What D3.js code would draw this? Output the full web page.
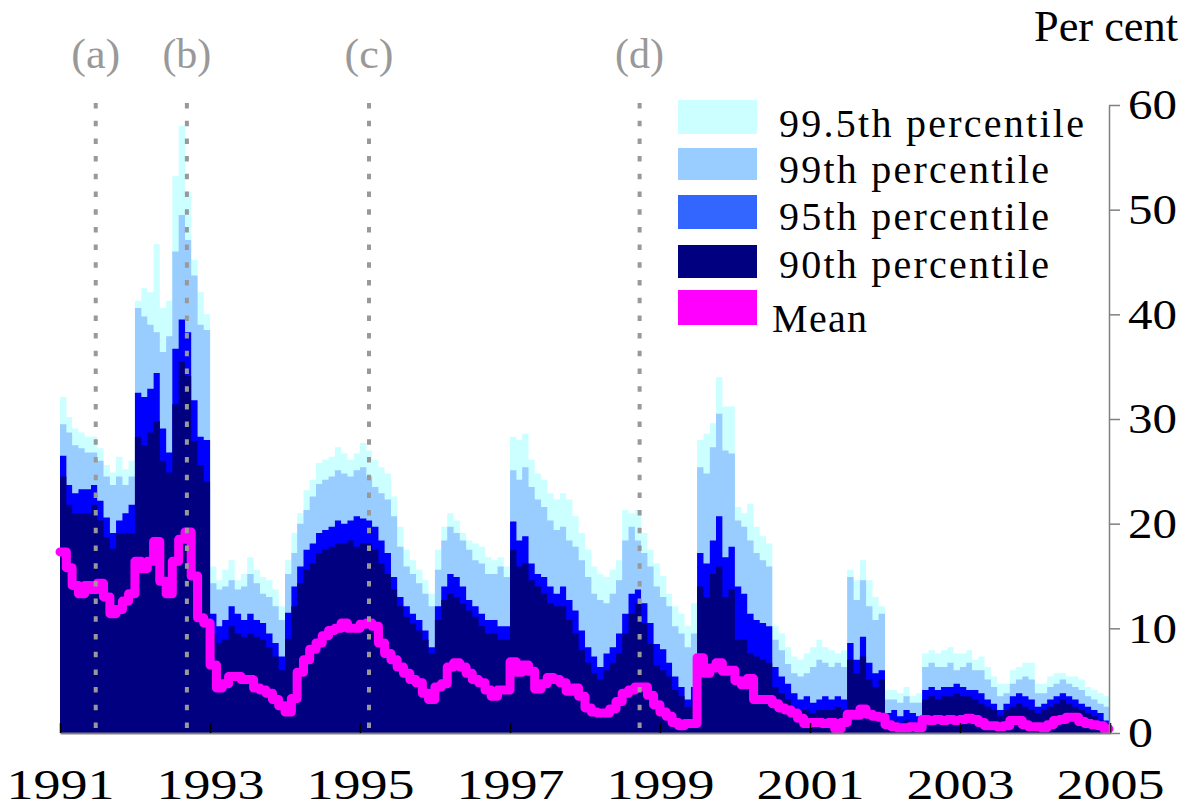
<!DOCTYPE html>
<html>
<head>
<meta charset="utf-8">
<script src="https://cdn.jsdelivr.net/npm/d3@7/dist/d3.min.js"></script>
<style>
  body { margin: 0; background: #fff; }
  svg { display: block; font-family: 'Liberation Serif', 'Times New Roman', serif; }
</style>
</head>
<body>
<svg id="chart" width="1192" height="809"></svg>
<script>
// monthly readings, Jan 1991 .. Dec 2004 (per cent)
const p995 = [
  32.1, 30.2, 29.1, 28.7, 28.3, 28.3, 27.2, 25.6, 24.9, 26.4, 25.2, 26.0,
  41.3, 42.5, 42.1, 46.7, 40.6, 41.3, 53.2, 58.0, 51.7, 45.2, 42.1, 40.0,
  15.9, 14.6, 15.6, 16.5, 14.6, 15.2, 16.8, 15.6, 14.9, 14.6, 13.7, 12.1,
  16.5, 19.1, 21.0, 23.2, 24.2, 25.8, 26.1, 26.4, 27.3, 26.7, 26.1, 26.7,
  27.7, 27.0, 26.1, 25.4, 24.8, 22.6, 19.7, 17.5, 16.5, 15.6, 14.6, 13.3,
  17.5, 19.7, 21.0, 20.3, 19.1, 18.4, 18.1, 17.8, 16.8, 16.5, 16.8, 15.9,
  28.3, 28.0, 28.6, 26.1, 24.8, 24.2, 22.9, 22.3, 22.9, 22.3, 20.7, 19.1,
  17.5, 15.9, 15.2, 14.9, 15.6, 16.5, 21.3, 21.0, 21.3, 19.1, 17.5, 16.2,
  15.0, 13.3, 12.1, 11.4, 10.2, 12.4, 28.0, 28.6, 29.6, 34.0, 31.2, 31.2,
  21.6, 21.0, 21.9, 19.7, 18.8, 18.1, 10.2, 9.5, 8.2, 7.3, 7.0, 7.6,
  8.2, 8.9, 8.2, 7.9, 7.6, 7.9, 15.6, 14.6, 16.5, 14.6, 13.0, 12.1,
  4.1, 4.1, 3.8, 4.4, 3.5, 3.8, 7.6, 7.9, 7.6, 7.9, 8.2, 7.6,
  7.6, 7.9, 7.0, 7.3, 6.3, 5.4, 4.7, 4.7, 6.0, 6.3, 6.7, 6.7,
  4.7, 4.7, 5.4, 5.7, 5.7, 5.4, 5.4, 5.1, 4.4, 4.1, 3.8, 3.5
]
const p99 = [
  29.5, 28.7, 27.5, 27.2, 26.8, 26.8, 26.0, 24.5, 23.7, 24.5, 23.7, 24.5,
  40.6, 39.8, 39.0, 38.3, 36.4, 37.9, 46.0, 49.5, 47.1, 43.7, 39.0, 38.5,
  14.3, 13.7, 14.0, 14.6, 13.7, 14.0, 15.2, 14.3, 13.3, 13.0, 12.1, 10.8,
  15.2, 17.2, 20.0, 21.3, 22.6, 23.8, 24.2, 24.5, 25.1, 24.8, 24.5, 25.1,
  25.4, 24.5, 23.5, 22.9, 22.3, 20.7, 17.8, 15.9, 15.2, 14.3, 13.3, 12.1,
  15.6, 18.4, 19.7, 19.1, 18.4, 17.5, 16.5, 16.2, 15.2, 15.2, 15.9, 14.9,
  25.1, 24.2, 25.4, 23.5, 22.3, 21.6, 20.3, 19.4, 19.7, 18.4, 17.8, 16.5,
  14.9, 13.3, 12.7, 12.4, 13.3, 14.6, 18.4, 19.7, 18.4, 17.2, 15.9, 14.0,
  13.0, 12.1, 10.2, 9.5, 8.2, 9.5, 25.4, 24.8, 27.3, 30.5, 27.0, 26.7,
  20.3, 19.7, 18.4, 17.2, 16.5, 15.9, 8.9, 7.9, 6.6, 5.7, 5.4, 5.7,
  6.3, 7.0, 6.7, 6.3, 6.7, 6.3, 14.9, 12.7, 14.6, 12.1, 10.8, 11.4,
  3.2, 3.2, 2.9, 3.5, 2.9, 2.9, 6.3, 6.7, 6.3, 6.3, 6.7, 6.0,
  6.3, 6.7, 6.0, 6.0, 5.1, 4.4, 3.5, 3.8, 4.7, 5.1, 5.4, 5.1,
  3.8, 3.8, 4.4, 4.7, 5.1, 4.7, 4.4, 4.1, 3.5, 3.2, 2.8, 2.5
]
const p95 = [
  26.5, 23.7, 22.9, 23.3, 23.3, 23.7, 22.2, 20.6, 19.1, 20.3, 21.0, 21.8,
  32.5, 32.1, 32.9, 34.4, 29.1, 26.8, 36.7, 39.5, 38.3, 31.8, 28.3, 28.0,
  11.4, 10.2, 10.8, 12.1, 11.4, 10.8, 11.4, 10.8, 10.5, 9.5, 8.6, 7.3,
  11.5, 14.0, 15.9, 17.5, 18.1, 19.1, 19.4, 19.7, 20.3, 20.0, 20.3, 20.7,
  20.5, 20.3, 19.7, 18.4, 17.2, 14.9, 13.0, 12.1, 11.4, 10.8, 9.8, 8.2,
  12.1, 14.0, 15.2, 14.9, 14.0, 12.7, 12.1, 11.4, 10.8, 10.8, 10.2, 10.2,
  20.2, 18.4, 18.8, 16.2, 15.2, 14.9, 14.0, 13.3, 14.0, 12.7, 11.7, 9.8,
  8.2, 7.3, 6.3, 7.6, 8.2, 9.5, 11.4, 13.3, 13.7, 12.4, 10.5, 8.5,
  8.0, 6.7, 5.4, 4.4, 3.2, 4.4, 17.2, 16.2, 18.4, 20.7, 16.8, 17.8,
  14.0, 13.3, 11.4, 10.8, 10.5, 10.2, 6.3, 5.4, 4.7, 3.8, 3.2, 3.5,
  2.9, 3.2, 3.5, 3.2, 3.5, 3.2, 8.6, 7.0, 9.2, 6.7, 5.7, 6.0,
  1.9, 2.2, 1.6, 2.2, 1.9, 1.6, 4.1, 4.4, 4.1, 4.4, 4.4, 4.7,
  4.4, 4.1, 4.1, 3.8, 3.2, 2.8, 2.2, 2.8, 3.5, 3.8, 3.5, 3.2,
  2.5, 2.8, 3.2, 3.5, 3.8, 3.5, 3.2, 2.8, 2.5, 2.2, 1.9, 1.2
]
const p90 = [
  24.5, 21.8, 21.0, 21.0, 21.0, 21.8, 20.3, 18.7, 17.6, 19.1, 19.1, 19.1,
  28.3, 27.5, 28.7, 29.8, 26.0, 24.9, 31.4, 35.5, 34.1, 27.9, 25.6, 24.0,
  9.5, 8.6, 8.9, 10.2, 9.5, 9.2, 9.5, 9.2, 8.9, 8.2, 7.3, 6.0,
  9.0, 12.1, 14.3, 15.6, 16.2, 17.2, 17.5, 17.8, 18.1, 18.1, 18.4, 17.8,
  18.1, 18.1, 17.5, 16.2, 15.2, 13.7, 12.1, 11.1, 10.5, 9.8, 8.9, 7.6,
  10.8, 12.7, 13.3, 13.0, 12.4, 11.7, 11.1, 10.2, 9.5, 9.5, 8.9, 8.9,
  17.5, 15.9, 16.2, 14.6, 14.0, 13.3, 12.4, 12.1, 12.1, 10.8, 9.5, 7.9,
  6.7, 5.7, 5.1, 6.0, 6.7, 7.6, 9.5, 11.4, 12.4, 10.5, 8.5, 6.5,
  6.0, 5.4, 4.1, 3.5, 2.5, 3.2, 14.0, 13.0, 15.2, 15.9, 13.0, 13.7,
  8.9, 8.9, 7.6, 7.3, 7.0, 6.7, 4.4, 3.8, 3.2, 2.5, 2.2, 2.2,
  1.9, 2.2, 2.2, 2.2, 2.5, 2.2, 7.0, 5.7, 7.3, 5.1, 4.4, 5.1,
  1.2, 1.2, 0.9, 1.2, 1.1, 0.9, 3.2, 3.5, 3.2, 3.5, 3.5, 3.8,
  3.5, 3.5, 3.2, 2.8, 2.5, 2.2, 1.6, 2.2, 2.5, 2.8, 2.5, 2.2,
  1.9, 2.2, 2.5, 2.8, 3.2, 2.8, 2.5, 2.2, 1.9, 1.6, 1.2, 0.9
]
const meanVals = [
  17.3, 15.8, 14.1, 13.3, 14.1, 13.7, 14.3, 13.0, 11.4, 11.8, 12.6, 13.3,
  16.4, 15.7, 16.4, 18.3, 14.5, 13.3, 16.4, 18.5, 19.2, 15.0, 11.0, 10.5,
  6.5, 4.3, 4.7, 5.4, 5.4, 5.1, 5.1, 4.3, 4.1, 3.8, 3.2, 2.6,
  2.0, 3.3, 5.8, 7.0, 8.0, 8.6, 9.3, 9.8, 10.0, 10.5, 10.0, 10.0,
  10.4, 10.5, 10.2, 8.6, 7.6, 7.0, 6.3, 5.7, 5.1, 4.8, 3.8, 3.2,
  4.4, 4.7, 6.3, 6.7, 6.3, 5.7, 5.1, 4.8, 4.1, 3.5, 4.1, 4.1,
  6.8, 5.8, 6.5, 5.9, 4.2, 4.7, 5.3, 5.1, 4.8, 4.0, 4.3, 3.5,
  2.4, 2.0, 1.9, 1.9, 2.3, 3.0, 3.8, 4.1, 4.4, 4.4, 3.6, 2.7,
  2.0, 1.6, 1.0, 0.7, 0.9, 0.9, 7.2, 5.7, 6.2, 6.7, 5.9, 6.0,
  5.0, 4.6, 5.2, 3.2, 3.2, 3.2, 2.8, 2.4, 2.2, 1.9, 1.4, 0.9,
  1.0, 1.0, 0.9, 1.0, 0.4, 1.0, 1.8, 1.7, 2.3, 1.8, 1.6, 1.5,
  0.8, 0.6, 0.5, 0.5, 0.6, 0.5, 1.3, 1.2, 1.3, 1.2, 1.3, 1.2,
  1.3, 1.4, 1.3, 1.0, 0.7, 0.7, 0.6, 0.7, 1.2, 1.2, 0.8, 0.6,
  0.6, 0.5, 0.8, 1.2, 1.3, 1.5, 1.5, 1.1, 0.9, 0.8, 0.7, 0.4
]
const yearTicks = [1991, 1993, 1995, 1997, 1999, 2001, 2003, 2005]
const yTicks = [0, 10, 20, 30, 40, 50, 60]
const events = [
  { label: '(a)', date: '1991-06-24' },
  { label: '(b)', date: '1992-09-10' },
  { label: '(c)', date: '1995-02-14' },
  { label: '(d)', date: '1998-09-24' }
]
const bands = [
  { name: '99.5th percentile', values: p995, fill: '#ccffff', key: '#ccffff' },
  { name: '99th percentile', values: p99, fill: '#99ccff', key: '#99ccff' },
  { name: '95th percentile', values: p95, fill: '#0000ff', key: '#3366ff' },
  { name: '90th percentile', values: p90, fill: '#000080', key: '#000080' }
]

const svg = d3.select('#chart')
const months = d3.timeMonth.range(new Date(1991, 0, 1), new Date(2005, 0, 1))
const lastDay = new Date(2004, 11, 27)

const x = d3.scaleTime().domain([new Date(1991, 0, 1), new Date(2005, 0, 1)]).range([60, 1110])
const y = d3.scaleLinear().domain([0, 60]).range([733, 105])

// month series -> points, last month held to the end of the year
const toPoints = vals => {
  const pts = months.map((d, i) => ({ date: d, v: vals[i] }))
  pts.push({ date: lastDay, v: vals[vals.length - 1] })
  return pts
}

const area = d3.area()
  .curve(d3.curveStepAfter)
  .x(d => x(d.date))
  .y0(y(0))
  .y1(d => y(d.v))

const plot = svg.append('g')
plot.selectAll('path.band')
  .data(bands)
  .join('path')
  .attr('class', 'band')
  .attr('fill', d => d.fill)
  .attr('d', d => area(toPoints(d.values)))

// mean line
const line = d3.line()
  .curve(d3.curveStepAfter)
  .x(d => x(d.date))
  .y(d => y(d.v))

plot.append('path')
  .attr('fill', 'none')
  .attr('stroke', '#ff00ff')
  .attr('stroke-width', 9)
  .attr('stroke-linejoin', 'round')
  .attr('stroke-linecap', 'round')
  .attr('d', line(toPoints(meanVals)))

// bottom axis: ticks inside, labels below
const xAxis = d3.axisBottom(x)
  .tickValues(yearTicks.map(yr => new Date(yr, 0, 1)))
  .tickSize(-10)
  .tickSizeOuter(0)
  .tickFormat(d3.timeFormat('%Y'))

const gx = svg.append('g')
  .attr('transform', `translate(0,${y(0)})`)
  .call(xAxis)
gx.select('.domain').attr('stroke', '#808080').attr('stroke-width', 2)
gx.selectAll('.tick line').attr('stroke', '#000').attr('stroke-width', 1.5)
gx.selectAll('.tick text')
  .attr('y', 66)
  .attr('dy', 0)
  .attr('fill', '#000')
  .attr('font-size', 42)
  .attr('font-family', "'Liberation Serif', 'Times New Roman', serif")
  .attr('textLength', 108)
  .attr('lengthAdjust', 'spacingAndGlyphs')

// right axis
const yAxis = d3.axisRight(y)
  .tickValues(yTicks)
  .tickSize(11)
  .tickSizeOuter(0)
  .tickPadding(8)

const gy = svg.append('g')
  .attr('transform', 'translate(1109,0)')
  .call(yAxis)
gy.select('.domain').attr('stroke', '#808080').attr('stroke-width', 1.5)
gy.selectAll('.tick line').attr('stroke', '#808080').attr('stroke-width', 1.5)
gy.selectAll('.tick text')
  .attr('fill', '#000')
  .attr('font-size', 43)
  .attr('font-family', "'Liberation Serif', 'Times New Roman', serif")
  .attr('textLength', d => (d < 10 ? 25 : 49))
  .attr('lengthAdjust', 'spacingAndGlyphs')

svg.append('text')
  .attr('x', 1178)
  .attr('y', 41)
  .attr('text-anchor', 'end')
  .attr('font-size', 44)
  .attr('textLength', 144)
  .attr('lengthAdjust', 'spacingAndGlyphs')
  .text('Per cent')

// event markers
const ev = svg.append('g')
ev.selectAll('line')
  .data(events)
  .join('line')
  .attr('x1', d => x(new Date(d.date)))
  .attr('x2', d => x(new Date(d.date)))
  .attr('y1', 103)
  .attr('y2', y(0))
  .attr('stroke', '#999999')
  .attr('stroke-width', 4)
  .attr('stroke-dasharray', '5.5,12.2')

ev.selectAll('text')
  .data(events)
  .join('text')
  .attr('x', d => x(new Date(d.date)))
  .attr('y', 68)
  .attr('text-anchor', 'middle')
  .attr('font-size', 42)
  .attr('fill', '#999999')
  .attr('textLength', 49)
  .attr('lengthAdjust', 'spacingAndGlyphs')
  .text(d => d.label)

// legend
const legendItems = bands.map(b => ({ name: b.name, color: b.key }))
legendItems.push({ name: 'Mean', color: '#ff00ff' })
const swatchY = [100, 148, 195, 245, 290]
const swatchH = [34, 32, 34, 33, 35]
const textY = [137, 183, 230, 278, 332]
const textLen = [305, 270, 270, 270, 95]

const lg = svg.append('g')
lg.selectAll('rect')
  .data(legendItems)
  .join('rect')
  .attr('x', 678)
  .attr('y', (d, i) => swatchY[i])
  .attr('width', 79)
  .attr('height', (d, i) => swatchH[i])
  .attr('fill', d => d.color)

lg.selectAll('text')
  .data(legendItems)
  .join('text')
  .attr('x', (d, i) => (i === 4 ? 772 : 779))
  .attr('y', (d, i) => textY[i])
  .attr('font-size', 40)
  .attr('textLength', (d, i) => textLen[i])
  .attr('lengthAdjust', 'spacing')
  .text(d => d.name)
</script>
</body>
</html>
